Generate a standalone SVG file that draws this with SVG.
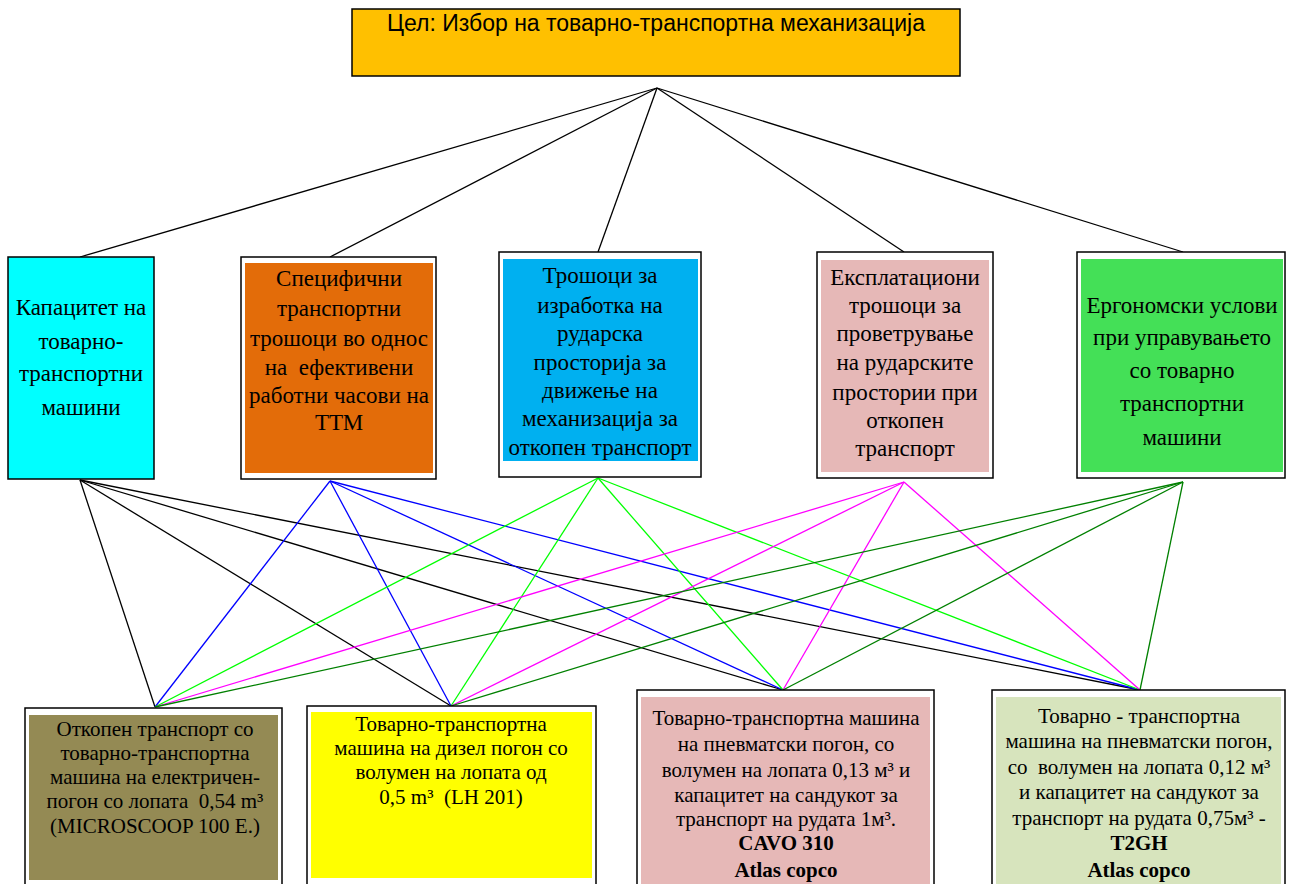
<svg xmlns="http://www.w3.org/2000/svg" width="1296" height="884" viewBox="0 0 1296 884">
<style>
.frame{fill:#ffffff;stroke:#000000;stroke-width:1.5}
.t{font-family:"Liberation Serif","Times New Roman",serif;font-size:23px;fill:#000;text-anchor:middle}
.b{font-family:"Liberation Serif","Times New Roman",serif;font-size:21px;fill:#000;text-anchor:middle}
.bold{font-weight:bold}
.top{font-family:"Liberation Sans",Arial,sans-serif;font-size:23px;fill:#000;text-anchor:middle}
.c line{stroke-width:1.3}
</style>
<rect width="1296" height="884" fill="#ffffff"/>
<g id="connectors" class="c">
  <g stroke="#000000">
    <line x1="657" y1="88" x2="80" y2="257"/>
    <line x1="657" y1="88" x2="330" y2="257"/>
    <line x1="657" y1="88" x2="598" y2="252"/>
    <line x1="657" y1="88" x2="904" y2="252"/>
    <line x1="657" y1="88" x2="1183" y2="252"/>
    <line x1="80" y1="480" x2="155" y2="707"/>
    <line x1="80" y1="480" x2="451" y2="706"/>
    <line x1="80" y1="480" x2="783" y2="690"/>
    <line x1="80" y1="480" x2="1140" y2="690"/>
  </g>
  <g stroke="#0000ff">
    <line x1="330" y1="481" x2="155" y2="707"/>
    <line x1="330" y1="481" x2="451" y2="706"/>
    <line x1="330" y1="481" x2="783" y2="690"/>
    <line x1="330" y1="481" x2="1140" y2="690"/>
  </g>
  <g stroke="#00ff00">
    <line x1="598" y1="478" x2="155" y2="707"/>
    <line x1="598" y1="478" x2="451" y2="706"/>
    <line x1="598" y1="478" x2="783" y2="690"/>
    <line x1="598" y1="478" x2="1140" y2="690"/>
  </g>
  <g stroke="#ff00ff">
    <line x1="904" y1="482" x2="155" y2="707"/>
    <line x1="904" y1="482" x2="451" y2="706"/>
    <line x1="904" y1="482" x2="783" y2="690"/>
    <line x1="904" y1="482" x2="1140" y2="690"/>
  </g>
  <g stroke="#008000">
    <line x1="1183" y1="482" x2="155" y2="707"/>
    <line x1="1183" y1="482" x2="451" y2="706"/>
    <line x1="1183" y1="482" x2="783" y2="690"/>
    <line x1="1183" y1="482" x2="1140" y2="690"/>
  </g>
</g>
<g id="goal">
  <rect x="352" y="9" width="608" height="67" fill="#ffc000" stroke="#000" stroke-width="1.5"/>
  <text class="top" x="656" y="31">Цел: Избор на товарно-транспортна механизација</text>
</g>
<g id="c1">
  <rect x="8" y="257" width="146" height="222" fill="#00ffff" stroke="#000" stroke-width="1.5"/>
  <text class="t" x="81" y="315">Капацитет на</text>
  <text class="t" x="81" y="349">товарно-</text>
  <text class="t" x="81" y="381">транспортни</text>
  <text class="t" x="81" y="415">машини</text>
</g>
<g id="c2">
  <rect class="frame" x="241" y="257" width="195" height="222"/>
  <rect x="245" y="263" width="188" height="210" fill="#e36c09"/>
  <text class="t" x="339" y="286">Специфични</text>
  <text class="t" x="339" y="316">транспортни</text>
  <text class="t" x="339" y="346">трошоци во однос</text>
  <text class="t" x="339" y="375" xml:space="preserve">на  ефективени</text>
  <text class="t" x="339" y="403">работни часови на</text>
  <text class="t" x="339" y="430">ТТМ</text>
</g>
<g id="c3">
  <rect class="frame" x="499" y="252" width="202" height="225"/>
  <rect x="503" y="259" width="195" height="202" fill="#00b0f0"/>
  <text class="t" x="600" y="283">Трошоци за</text>
  <text class="t" x="600" y="313">изработка на</text>
  <text class="t" x="600" y="341">рударска</text>
  <text class="t" x="600" y="370">просторија за</text>
  <text class="t" x="600" y="398">движење на</text>
  <text class="t" x="600" y="426">механизација за</text>
  <text class="t" x="600" y="455">откопен транспорт</text>
</g>
<g id="c4">
  <rect class="frame" x="817" y="252" width="176" height="226"/>
  <rect x="821" y="260" width="168" height="212" fill="#e6b8b7"/>
  <text class="t" x="905" y="285">Експлатациони</text>
  <text class="t" x="905" y="313">трошоци за</text>
  <text class="t" x="905" y="341">проветрување</text>
  <text class="t" x="905" y="370">на рударските</text>
  <text class="t" x="905" y="400">простории при</text>
  <text class="t" x="905" y="428">откопен</text>
  <text class="t" x="905" y="456">транспорт</text>
</g>
<g id="c5">
  <rect class="frame" x="1077" y="252" width="208" height="226"/>
  <rect x="1081" y="259" width="202" height="213" fill="#44e057"/>
  <text class="t" x="1182" y="313">Ергономски услови</text>
  <text class="t" x="1182" y="345">при управувањето</text>
  <text class="t" x="1182" y="378">со товарно</text>
  <text class="t" x="1182" y="411">транспортни</text>
  <text class="t" x="1182" y="445">машини</text>
</g>
<g id="a1">
  <rect class="frame" x="25" y="708" width="257" height="190"/>
  <rect x="29" y="715" width="249" height="165" fill="#948a54"/>
  <text class="b" x="155" y="736">Откопен транспорт со</text>
  <text class="b" x="155" y="760">товарно-транспортна</text>
  <text class="b" x="155" y="784">машина на електричен-</text>
  <text class="b" x="155" y="808" xml:space="preserve">погон со лопата  0,54 m³</text>
  <text class="b" x="155" y="833">(MICROSCOOP 100 E.)</text>
</g>
<g id="a2">
  <rect class="frame" x="307" y="706" width="289" height="190"/>
  <rect x="311" y="712" width="281" height="166" fill="#ffff00"/>
  <text class="b" x="451" y="731">Товарно-транспортна</text>
  <text class="b" x="451" y="755">машина на дизел погон со</text>
  <text class="b" x="451" y="779">волумен на лопата од</text>
  <text class="b" x="451" y="804" xml:space="preserve">0,5 m³  (LH 201)</text>
</g>
<g id="a3">
  <rect class="frame" x="637" y="690" width="297" height="210"/>
  <rect x="641" y="697" width="289" height="200" fill="#e6b8b7"/>
  <text class="b" x="786" y="725">Товарно-транспортна машина</text>
  <text class="b" x="786" y="751">на пневматски погон, со</text>
  <text class="b" x="786" y="777">волумен на лопата 0,13 м³ и</text>
  <text class="b" x="786" y="802">капацитет на сандукот за</text>
  <text class="b" x="786" y="826">транспорт на рудата 1м³.</text>
  <text class="b bold" x="786" y="850">CAVO 310</text>
  <text class="b bold" x="786" y="877">Atlas copco</text>
</g>
<g id="a4">
  <rect class="frame" x="992" y="690" width="293" height="210"/>
  <rect x="996" y="697" width="285" height="200" fill="#d7e4bd"/>
  <text class="b" x="1139" y="723">Товарно - транспортна</text>
  <text class="b" x="1139" y="748">машина на пневматски погон,</text>
  <text class="b" x="1139" y="774" xml:space="preserve">со  волумен на лопата 0,12 м³</text>
  <text class="b" x="1139" y="799">и капацитет на сандукот за</text>
  <text class="b" x="1139" y="825">транспорт на рудата 0,75м³ -</text>
  <text class="b bold" x="1139" y="850">T2GH</text>
  <text class="b bold" x="1139" y="877">Atlas copco</text>
</g>
</svg>
